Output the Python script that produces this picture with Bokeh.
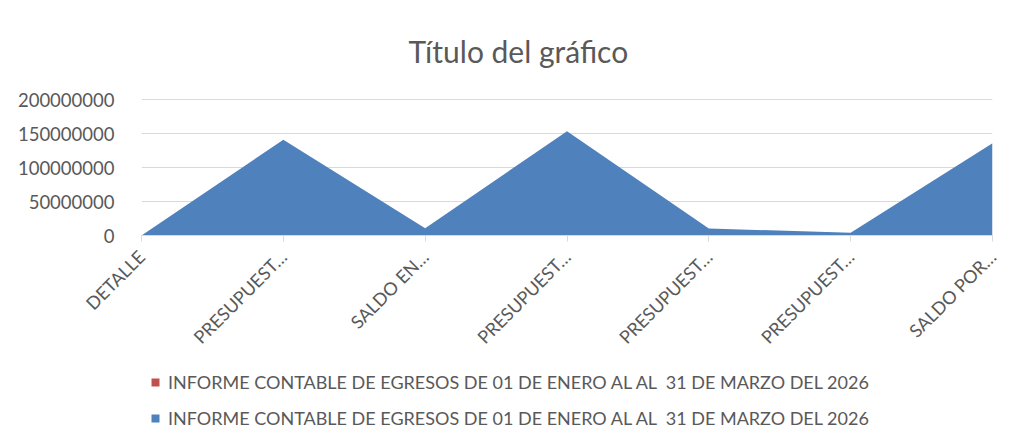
import math
from bokeh.plotting import figure
from bokeh.layouts import column
from bokeh.models import FixedTicker, Legend, LegendItem, Title, Range1d, ColumnDataSource
from bokeh.embed import file_html
from bokeh.resources import INLINE

categories = ["DETALLE", "PRESUPUEST…", "SALDO EN…", "PRESUPUEST…",
              "PRESUPUEST…", "PRESUPUEST…", "SALDO POR…"]
serie_roja = [0, 0, 0, 0, 0, 0, 0]
serie_azul = [0, 140700000, 10700000, 153400000, 10300000, 4000000, 135700000]
y_ticks = [0, 50000000, 100000000, 150000000, 200000000]
legend_labels = [
    "INFORME CONTABLE DE EGRESOS DE 01 DE ENERO AL AL  31 DE MARZO DEL 2026",
    "INFORME CONTABLE DE EGRESOS DE 01 DE ENERO AL AL  31 DE MARZO DEL 2026",
]
title_text = "Título del gráfico"

FONT = "Lato"
GREY = "#595959"
GRID = "#D9D9D9"
RED = "#C0504D"
BLUE = "#4F81BD"

xs = list(range(len(categories)))
src = ColumnDataSource(dict(x=xs, zero=[0] * len(xs), roja=serie_roja, azul=serie_azul))

p = figure(frame_width=851, frame_height=137, output_backend="svg", toolbar_location=None,
           x_range=Range1d(0, len(categories) - 1),
           y_range=Range1d(0, y_ticks[-1] * 137 / 136),
           min_border_left=141, min_border_right=30, min_border_top=91,
           min_border_bottom=0)
p.outline_line_color = None
p.background_fill_color = "white"
p.border_fill_color = "white"

p.varea(x="x", y1="zero", y2="azul", source=src, fill_color=BLUE)
p.varea(x="x", y1="zero", y2="roja", source=src, fill_color=RED)

p.title = Title(text=title_text, align="left", text_font=FONT,
                text_font_size="30px", text_font_style="normal", text_color=GREY,
                standoff=60, offset=267)

xa = p.xaxis[0]
xa.ticker = FixedTicker(ticks=xs)
xa.major_label_overrides = {i: c for i, c in enumerate(categories)}
xa.major_label_orientation = math.pi / 4
xa.axis_line_color = GRID
xa.major_tick_line_color = GRID
xa.major_tick_out = 6
xa.major_tick_in = 0
xa.minor_tick_line_color = None
xa.major_label_text_font = FONT
xa.major_label_text_font_size = "18px"
xa.major_label_text_color = GREY
xa.major_label_standoff = 12

ya = p.yaxis[0]
ya.ticker = FixedTicker(ticks=y_ticks)
ya.major_label_overrides = {t: str(t) for t in y_ticks}
ya.axis_line_color = None
ya.major_tick_line_color = None
ya.minor_tick_line_color = None
ya.major_label_standoff = 21
ya.major_label_text_font = FONT
ya.major_label_text_font_size = "18.5px"
ya.major_label_text_color = GREY

p.xgrid.grid_line_color = None
p.ygrid.grid_line_color = GRID
p.ygrid.grid_line_width = 1

# Legend panel: a second figure whose view is away from the data, holding only the legend
lg = figure(width=1022, height=94, output_backend="svg", toolbar_location=None,
            x_range=Range1d(100, 101), y_range=Range1d(0, 1),
            min_border_left=0, min_border_right=0, min_border_top=0, min_border_bottom=0)
lg.axis.visible = False
lg.grid.visible = False
lg.outline_line_color = None
lg.border_fill_color = "white"
l_roja = lg.varea(x="x", y1="zero", y2="roja", source=src, fill_color=RED)
l_azul = lg.varea(x="x", y1="zero", y2="azul", source=src, fill_color=BLUE)

legend = Legend(items=[LegendItem(label=legend_labels[0], renderers=[l_roja]),
                       LegendItem(label=legend_labels[1], renderers=[l_azul])],
                orientation="vertical", location=(9, 23),
                label_text_font=FONT, label_text_font_size="18px",
                label_text_color=GREY, glyph_width=10, glyph_height=10,
                label_standoff=8, spacing=14, padding=0, margin=0,
                border_line_color=None, background_fill_alpha=0)
lg.add_layout(legend, "center")

layout = column(p, lg, spacing=0)
open("out.html", "w").write(file_html(layout, INLINE))
